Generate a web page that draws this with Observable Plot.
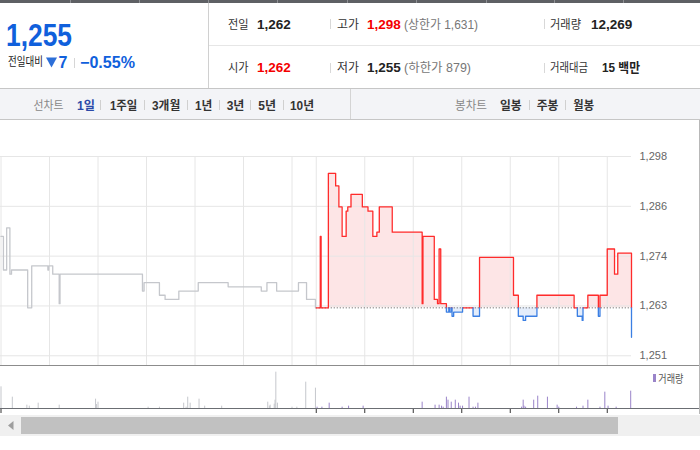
<!DOCTYPE html>
<html><head><meta charset="utf-8">
<script src="https://cdn.jsdelivr.net/npm/d3@7"></script>
<script src="https://cdn.jsdelivr.net/npm/@observablehq/plot@0.6"></script>
<style>
html,body{margin:0;padding:0;background:#fff;}
#wrap{position:relative;width:700px;height:450px;overflow:hidden;font-family:"Liberation Sans","Noto Sans CJK KR",sans-serif;}
#price{position:absolute;left:0;top:120px;}
#vol{position:absolute;left:0;top:366px;}
#chrome{position:absolute;left:0;top:0;pointer-events:none;}
</style></head><body>
<div id="wrap"><div id="price"></div><div id="vol"></div><svg id="chrome" width="700" height="450"></svg></div>
<script>
// ---- data ----
const prevClose = 1262;
const prevTimes  = ["09:00","09:03","09:07","09:11","09:13","09:33","09:38","09:58","09:59","10:04","10:12","10:13","11:55","11:57","12:16","12:23","12:40","13:04","13:41","14:22","14:29","14:41","15:08","15:18","15:29","15:30"];
const prevPrices = [1279,1271,1281,1270,1271,1262,1272,1271,1272,1270,1263,1270,1266,1268,1265,1264,1266,1268,1267,1266,1268,1266,1268,1264,1262,1262];
const todayTimes  = ["09:00","09:05","09:06","09:15","09:24","09:28","09:32","09:37","09:39","09:43","09:57","10:04","10:10","10:15","10:18","10:34","11:11","11:12","11:26","11:30","11:32","11:34","11:41","11:44","11:45","11:47","11:48","11:50","12:01","12:14","12:22","13:04","13:10","13:16","13:19","13:33","14:19","14:23","14:29","14:30","14:36","14:49","14:51","15:00","15:09","15:13","15:30"];
const todayPrices = [1262,1279,1262,1294,1291,1286,1279,1285,1286,1289,1286,1285,1279,1280,1286,1280,1263,1279,1264,1263,1276,1263,1261,1262,1261,1262,1260,1261,1262,1260,1274,1265,1260,1259,1260,1265,1262,1260,1259,1262,1265,1260,1265,1276,1270,1275,1255];
const prevVolTimes = ["09:00","09:14","09:32","09:35","09:46","10:12","10:57","10:58","11:00","12:02","12:16","12:46","12:49","12:51","12:54","13:05","13:12","13:33","14:30","14:32","14:33","14:38","14:39","14:40","14:42","15:00","15:06","15:17","15:29"];
const prevVolumes  = [1300,680,200,140,320,200,560,240,380,80,80,320,80,680,320,560,140,140,380,140,200,260,500,2180,320,80,80,1580,1220];
const todayVolTimes = ["09:01","09:07","09:16","09:32","09:40","09:58","11:11","11:27","11:32","11:35","11:37","11:41","11:43","11:47","11:52","11:56","11:58","12:01","12:09","12:14","12:17","12:20","13:14","13:16","13:17","13:19","13:29","13:34","13:46","13:58","14:00","14:22","14:30","14:36","14:51","14:57","15:01","15:11","15:29"];
const todayVolumes  = [80,80,320,80,140,140,380,200,200,140,80,680,500,380,500,320,140,140,680,80,80,320,80,500,140,80,500,740,680,200,80,80,140,500,80,980,140,80,1040];
const yTickValues = [1250.6,1262.45,1274.3,1286.15,1298];
const yTickLabels = ["1,251","1,263","1,274","1,286","1,298"];
const hourTicks = ["09:00","10:00","11:00","12:00","13:00","14:00","15:00"];

// ---- helpers ----
const toMin = t => { const [h,m] = t.split(":").map(Number); return h*60+m-540; };
const prevPts  = prevTimes.map((t,i)=>({m:toMin(t), p:prevPrices[i]}));
const todayPts = todayTimes.map((t,i)=>({m:toMin(t)+390, p:todayPrices[i]}));
function expandStep(pts){
  const out=[];
  pts.forEach((d,i)=>{ if(i>0 && pts[i-1].p!==d.p) out.push({m:d.m,p:pts[i-1].p}); out.push(d); });
  return out;
}
function splitByBase(pts, base){
  const v=[pts[0]];
  for(let i=1;i<pts.length;i++){
    const a=pts[i-1], b=pts[i];
    if((a.p>base && b.p<base)||(a.p<base && b.p>base)) v.push({m:b.m,p:base});
    v.push(b);
  }
  const rows=[]; let seg=0, side0=null;
  for(let i=1;i<v.length;i++){
    const a=v[i-1], b=v[i];
    const side=(a.p+b.p)/2>=base?"up":"down";
    if(side!==side0){ seg++; rows.push({...a,seg,side}); side0=side; }
    rows.push({...b,seg,side});
  }
  return rows;
}
const prevStep  = expandStep(prevPts);
const todayStep = expandStep(todayPts);
const todayRows = splitByBase(todayStep, prevClose);
const gridMins = [...hourTicks.map(toMin), ...hourTicks.map(t=>toMin(t)+390)];
const prevVol  = prevVolTimes.map((t,i)=>({m:toMin(t), v:prevVolumes[i]}));
const todayVol = todayVolTimes.map((t,i)=>({m:toMin(t)+390, v:todayVolumes[i]}));
const volTicks = [0, ...hourTicks.map(t=>toMin(t)+390)];

const RED="#ff2b2b", BLUE="#3b7fe3", PINK="#fde5e6", LBLUE="#e4edfb";

const price = Plot.plot({
  width:700, height:246, marginLeft:0, marginRight:69, marginTop:36, marginBottom:0,
  x:{domain:[0,780], range:[0.5,631], axis:null},
  y:{domain:[1248.05,1298], axis:"right", ticks:yTickValues, tickSize:0, tickPadding:8,
     tickFormat:d=>yTickLabels[yTickValues.indexOf(d)], label:null},
  style:{background:"transparent", fontFamily:"Liberation Sans, Arial, sans-serif", fontSize:"11px", color:"#666", overflow:"visible"},
  marks:[
    Plot.areaY(todayStep,{x:"m", y1:()=>prevClose, y2:d=>Math.max(d.p,prevClose), fill:PINK}),
    Plot.areaY(todayStep,{x:"m", y1:()=>prevClose, y2:d=>Math.min(d.p,prevClose), fill:LBLUE}),
    Plot.ruleY(yTickValues,{stroke:"#e6e6e6", strokeWidth:1}),
    Plot.ruleX(gridMins,{stroke:"#e6e6e6", strokeWidth:1}),
    Plot.ruleY([prevClose],{x1:390, x2:780, stroke:"#555", strokeDasharray:"1,2", strokeWidth:1}),
    Plot.line(prevStep,{x:"m", y:"p", stroke:"#c5c7cc", strokeWidth:1.3}),
    Plot.line(todayRows.filter(d=>d.side==="up"),{x:"m", y:"p", z:"seg", stroke:RED, strokeWidth:1.3}),
    Plot.line(todayRows.filter(d=>d.side==="down"),{x:"m", y:"p", z:"seg", stroke:BLUE, strokeWidth:1.3})
  ]
});
document.getElementById("price").appendChild(price);

const vol = Plot.plot({
  width:700, height:48, marginLeft:0, marginRight:69, marginTop:0, marginBottom:6,
  x:{domain:[0,780], range:[0.5,631], ticks:volTicks, tickSize:5, tickFormat:()=>"", label:null},
  y:{domain:[0,2520], axis:null},
  style:{background:"transparent", color:"#333", overflow:"visible"},
  marks:[
    Plot.ruleX(prevVol,{x:"m", y1:0, y2:"v", stroke:"#c5c7cc", strokeWidth:1}),
    Plot.ruleX(todayVol,{x:"m", y1:0, y2:"v", stroke:"#9a84c9", strokeWidth:1})
  ]
});
document.getElementById("vol").appendChild(vol);

// ---- chrome (header, toolbar, borders, legend, scrollbar) ----
const FF = "Liberation Sans, Noto Sans CJK KR, sans-serif";
function T(x,y,s,o={}){
  const a=[`x="${x}"`,`y="${y}"`,`font-size="${o.size||12}"`,`fill="${o.fill||'#333'}"`];
  if(o.bold) a.push('font-weight="bold"');
  if(o.len) a.push(`textLength="${o.len}" lengthAdjust="spacingAndGlyphs"`);
  if(o.ls) a.push(`letter-spacing="${o.ls}"`);
  return `<text ${a.join(" ")}>${s}</text>`;
}
const sep = (x,y1,y2,c="#d8d8d8") => `<line x1="${x+0.5}" y1="${y1}" x2="${x+0.5}" y2="${y2}" stroke="${c}"/>`;
let h = `<g font-family="${FF}">`;
h += `<rect x="0" y="0" width="700" height="3" fill="#5e6064"/>`;
[70,139,208,277,347,416,486,554,623].forEach(x=>{ h+=`<rect x="${x}" y="0" width="1" height="3" fill="#8e9094"/>`; });
h += sep(208,3,88,"#d0d0d0");
h += `<line x1="209" y1="45.5" x2="700" y2="45.5" stroke="#e6e6e6"/>`;
// left box
h += T(6,46,"1,255",{size:31,bold:true,fill:"#1060dc",len:66});
h += T(8,66,"전일대비",{size:12,fill:"#222",len:35});
h += `<polygon points="46,57.5 57,57.5 51.5,67.5" fill="#2c6fd8"/>`;
h += T(58.5,67.5,"7",{size:16,bold:true,fill:"#1060dc"});
h += sep(74,58,68,"#d6d6d6");
h += T(80,67.5,"−0.55%",{size:16,bold:true,fill:"#1060dc",len:55});
// row 1
h += T(228,28.5,"전일",{len:20.6});
h += T(257,28.5,"1,262",{size:13.5,bold:true,fill:"#222"});
h += sep(330,19,29);
h += T(337,28.5,"고가",{len:22});
h += T(367,28.5,"1,298",{size:13.5,bold:true,fill:"#f40000"});
h += T(404,28.5,"(상한가 1,631)",{fill:"#777",len:74});
h += sep(544,19,29);
h += T(550,28.5,"거래량",{len:31});
h += T(591,28.5,"12,269",{size:13.5,bold:true,fill:"#222"});
// row 2
h += T(228,72,"시가",{len:20.6});
h += T(257,72,"1,262",{size:13.5,bold:true,fill:"#f40000"});
h += sep(330,63,73);
h += T(337,72,"저가",{len:22});
h += T(367,72,"1,255",{size:13.5,bold:true,fill:"#222"});
h += T(404,72,"(하한가 879)",{fill:"#777",len:67});
h += sep(544,63,73);
h += T(550,72,"거래대금",{len:38});
h += T(602,72,"15 백만",{size:13,bold:true,fill:"#222",len:38});
// toolbar
h += `<rect x="0" y="88" width="700" height="31" fill="#f3f4f7"/>`;
h += `<line x1="0" y1="88.5" x2="700" y2="88.5" stroke="#c6c6c6"/>`;
h += `<line x1="0" y1="119.5" x2="700" y2="119.5" stroke="#c6c6c6"/>`;
h += sep(350,89,119,"#d4d4d4");
h += T(33.5,109.5,"선차트",{fill:"#888",len:30});
h += T(77,109.5,"1일",{bold:true,fill:"#2b49a8",len:18});
[[110,"1주일",27.3],[152,"3개월",28.3],[195,"1년",17.3],[226.7,"3년",17.7],[258.3,"5년",17.7],[290,"10년",24]].forEach(([x,s,l])=>{ h+=T(x,109.5,s,{bold:true,fill:"#333",len:l}); });
[100.7,144,187.7,219,250,283.3].forEach(x=>{ h+=sep(Math.floor(x),100,110,"#d0d0d0"); });
h += T(455,109.5,"봉차트",{fill:"#888",len:32});
h += T(500,109.5,"일봉",{bold:true,fill:"#333",len:21.7});
h += sep(529,100,110,"#d0d0d0");
h += T(536.7,109.5,"주봉",{bold:true,fill:"#333",len:21.7});
h += sep(565,100,110,"#d0d0d0");
h += T(573.3,109.5,"월봉",{bold:true,fill:"#333",len:20.7});
// chart borders
h += `<line x1="0" y1="365.5" x2="700" y2="365.5" stroke="#8c8c8c"/>`;
h += `<line x1="0" y1="408.5" x2="699" y2="408.5" stroke="#6b6e73"/>`;
h += `<line x1="699.5" y1="120" x2="699.5" y2="414" stroke="#b8b8b8"/>`;
// legend
h += `<rect x="653" y="374" width="3" height="8" fill="#9a84c9"/>`;
h += T(658.3,382.5,"거래량",{size:11,fill:"#555",len:25});
// scrollbar
h += `<rect x="0" y="415" width="700" height="21" fill="#f0f0f0"/>`;
h += `<rect x="21" y="417" width="597" height="17" fill="#c1c1c1"/>`;
h += `<polygon points="8,425.5 13.5,421 13.5,430" fill="#9e9e9e"/>`;
h += `</g>`;
document.getElementById("chrome").innerHTML = h;
</script>
</body></html>
